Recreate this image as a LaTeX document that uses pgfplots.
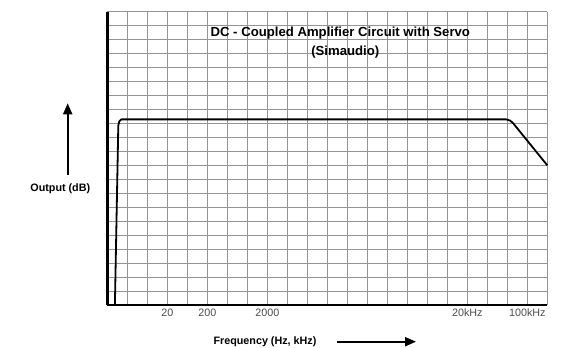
\documentclass[border=0pt]{standalone}
\usepackage{pgfplots}
\pgfplotsset{compat=1.18}
\usepackage{fontspec}
\setmainfont{Liberation Sans}
\usetikzlibrary{arrows.meta}
\begin{document}
\begin{tikzpicture}
\useasboundingbox (-107.3bp,-43bp) rectangle (463.7bp,305bp);
\begin{axis}[
  at={(0,0)}, anchor=south west,
  scale only axis, width=440bp, height=293.3bp,
  xmin=0, xmax=22, ymin=0, ymax=21,
  xtick={0,...,22}, ytick={0,...,21},
  xticklabels={,,,20,,200,,,2000,,,,,,,,,,20kHz,,,100kHz,},
  yticklabels={},
  major tick length=0pt,
  grid=major,
  major grid style={draw=black!42, line width=0.85bp},
  axis x line=bottom, axis y line=left,
  axis line style={-, line width=2.6bp, black},
  xticklabel style={font=\fontsize{10.8}{12}\selectfont, text=black!70},
  clip=false,
]
\addplot[black, line width=1.8bp, line join=round] coordinates {
(0.38,0) (0.55,12.85) (0.6,13.15) (0.7,13.29) (19.95,13.29) (20.15,13.2) (20.3,13.0) (22,10)
};
\node[font=\bfseries\fontsize{13.2}{15}\selectfont] at (axis cs:11.65,19.48) {DC - Coupled Amplifier Circuit with Servo};
\node[font=\bfseries\fontsize{13.2}{15}\selectfont] at (axis cs:11.9,18.14) {(Simaudio)};
\end{axis}
\node[font=\bfseries\fontsize{10.8}{12}\selectfont] at (-47bp,116.7bp) {Output (dB)};
\draw[line width=2bp, -{Triangle[length=11bp,width=9bp]}] (-39.6bp,130bp) -- (-39.6bp,201.7bp);
\node[font=\bfseries\fontsize{10.8}{12}\selectfont] at (157.7bp,-36.7bp) {Frequency (Hz, kHz)};
\draw[line width=2bp, -{Triangle[length=11bp,width=9bp]}] (229.7bp,-36.7bp) -- (308.7bp,-36.7bp);
\end{tikzpicture}
\end{document}
